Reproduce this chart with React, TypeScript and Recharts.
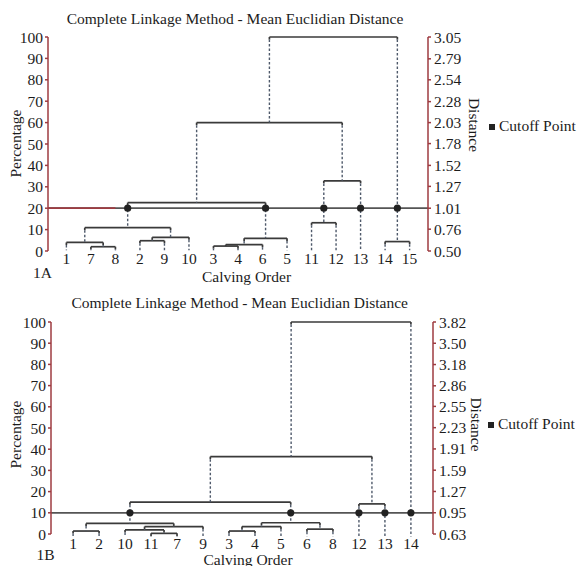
import React from 'react';
import { ComposedChart, XAxis, YAxis, Scatter, ReferenceLine, Legend } from 'recharts';

const FONT = '"Liberation Serif", "Times New Roman", serif';
const AXIS_RED = '#9e3b40';
const TEXT = '#1c1c1c';

const titleText = 'Complete Linkage Method - Mean Euclidian Distance';
const xLabelText = 'Calving Order';
const leftLabelText = 'Percentage';
const rightLabelText = 'Distance';
const seriesName = 'Cutoff Point';

const pctTicks = [0, 10, 20, 30, 40, 50, 60, 70, 80, 90, 100];

// ---------- Panel 1A ----------
const leavesA = ['1', '7', '8', '2', '9', '10', '3', '4', '6', '5', '11', '12', '13', '14', '15'];
// [left, right, height %]; merge k is referred to as 'm' + k
const mergesA: [string, string, number][] = [
  ['7', '8', 2.0],
  ['1', 'm0', 4.0],
  ['2', '9', 4.8],
  ['m2', '10', 6.4],
  ['m1', 'm3', 10.9],
  ['3', '4', 2.3],
  ['m5', '6', 3.0],
  ['m6', '5', 5.9],
  ['m4', 'm7', 22.6],
  ['11', '12', 13.2],
  ['m9', '13', 32.8],
  ['m8', 'm10', 60],
  ['14', '15', 4.4],
  ['m11', 'm12', 100],
];
const distTicksA = [0.5, 0.76, 1.01, 1.27, 1.52, 1.78, 2.03, 2.28, 2.54, 2.79, 3.05];
const cutoffA = 20;
const leafBaseA = 0.3;

// ---------- Panel 1B ----------
const leavesB = ['1', '2', '10', '11', '7', '9', '3', '4', '5', '6', '8', '12', '13', '14'];
const mergesB: [string, string, number][] = [
  ['1', '2', 1.4],
  ['11', '7', 0.3],
  ['10', 'm1', 1.9],
  ['m2', '9', 3.5],
  ['m0', 'm3', 5.0],
  ['3', '4', 1.4],
  ['m5', '5', 3.5],
  ['6', '8', 2.3],
  ['m6', 'm7', 5.3],
  ['m4', 'm8', 15.0],
  ['12', '13', 14.2],
  ['m9', 'm10', 36.5],
  ['m11', '14', 100],
];
const distTicksB = [0.63, 0.95, 1.27, 1.59, 1.91, 2.23, 2.55, 2.86, 3.18, 3.5, 3.82];
const cutoffB = 10;
const leafBaseB = -1.2;

type Seg = { x1: number; y1: number; x2: number; y2: number; dashed: boolean };
const STUB = 1.2;

function buildTree(leaves: string[], merges: [string, string, number][], leafBase: number, cutoff: number) {
  const pos: Record<string, { x: number; h: number }> = {};
  leaves.forEach((l, i) => {
    pos[l] = { x: i, h: leafBase };
  });
  const parent: Record<string, number> = {};
  const segs: Seg[] = [];
  merges.forEach(([a, b, h], k) => {
    const A = pos[a];
    const B = pos[b];
    segs.push({ x1: A.x, y1: h, x2: B.x, y2: h, dashed: false });
    [A, B].forEach((c) => {
      const stubEnd = Math.max(c.h, h - STUB);
      segs.push({ x1: c.x, y1: h, x2: c.x, y2: stubEnd, dashed: false });
      if (stubEnd > c.h) segs.push({ x1: c.x, y1: stubEnd, x2: c.x, y2: c.h, dashed: true });
    });
    pos['m' + k] = { x: (A.x + B.x) / 2, h };
    parent[a] = h;
    parent[b] = h;
  });
  const dots = Object.keys(pos)
    .filter((n) => parent[n] !== undefined && pos[n].h < cutoff && parent[n] > cutoff)
    .map((n) => ({ x: pos[n].x, y: cutoff }));
  return { segs, dots };
}

type PanelCfg = {
  tag: string;
  leaves: string[];
  merges: [string, string, number][];
  distTicks: number[];
  cutoff: number;
  leafBase: number;
  top: number;
  leftW: number;
  rightW: number;
  xDomain: [number, number];
  tickMargin: number;
  redUntil?: string;
  titleX: number;
  titleY: number;
  tagX: number;
  tagY: number;
  xLabelX: number;
  xLabelY: number;
  leftLabel: [number, number];
  rightLabel: [number, number];
  legendPos: [number, number];
};

const dotShape = (p: any) => <circle cx={p.cx} cy={p.cy} r={3.6} fill="#222" />;

function Panel({ cfg }: { cfg: PanelCfg }) {
  const { segs, dots } = buildTree(cfg.leaves, cfg.merges, cfg.leafBase, cfg.cutoff);
  const tickStyle = { fill: TEXT, fontSize: 15.5, fontFamily: FONT };
  const redIdx = cfg.redUntil ? cfg.leaves.indexOf(cfg.redUntil) : -1;
  return (
    <div style={{ position: 'relative', width: 581, height: 283 }}>
      <ComposedChart width={581} height={283} margin={{ top: cfg.top, right: 0, bottom: 0, left: 0 }}>
        <XAxis
          xAxisId="x"
          type="number"
          dataKey="x"
          domain={cfg.xDomain}
          ticks={cfg.leaves.map((_, i) => i)}
          tickFormatter={(i: number) => cfg.leaves[i] ?? ''}
          interval={0}
          axisLine={false}
          tickLine={false}
          tickSize={0}
          tickMargin={cfg.tickMargin}
          height={32}
          tick={tickStyle}
          allowDataOverflow
        />
        <YAxis
          yAxisId="pct"
          type="number"
          domain={[0, 100]}
          ticks={pctTicks}
          interval={0}
          width={cfg.leftW}
          stroke={AXIS_RED}
          strokeWidth={1.5}
          tickSize={3}
          tickMargin={2}
          tick={tickStyle}
          allowDataOverflow
        />
        <YAxis
          yAxisId="dist"
          orientation="right"
          type="number"
          domain={[cfg.distTicks[0], cfg.distTicks[cfg.distTicks.length - 1]]}
          ticks={cfg.distTicks}
          tickFormatter={(v: number) => v.toFixed(2)}
          interval={0}
          width={cfg.rightW}
          stroke={AXIS_RED}
          strokeWidth={1.5}
          tickSize={3}
          tickMargin={3}
          tick={tickStyle}
          allowDataOverflow
        />
        <ReferenceLine
          xAxisId="x"
          yAxisId="pct"
          y={cfg.cutoff}
          stroke="#555"
          strokeWidth={1.8}
          ifOverflow="visible"
        />
        {redIdx >= 0 && (
          <ReferenceLine
            xAxisId="x"
            yAxisId="pct"
            segment={[
              { x: cfg.xDomain[0], y: cfg.cutoff },
              { x: redIdx, y: cfg.cutoff },
            ]}
            stroke={AXIS_RED}
            strokeWidth={1.8}
            ifOverflow="visible"
          />
        )}
        {segs.map((s, i) => (
          <ReferenceLine
            key={i}
            xAxisId="x"
            yAxisId="pct"
            segment={[
              { x: s.x1, y: s.y1 },
              { x: s.x2, y: s.y2 },
            ]}
            stroke={s.dashed ? '#4f5a6b' : '#3a3a3a'}
            strokeWidth={s.dashed ? 1.4 : 1.7}
            strokeDasharray={s.dashed ? '2.5 2' : undefined}
            ifOverflow="visible"
          />
        ))}
        <Scatter
          name={seriesName}
          data={dots}
          xAxisId="x"
          yAxisId="pct"
          dataKey="y"
          fill="#222"
          legendType="square"
          shape={dotShape}
          isAnimationActive={false}
        />
        <Legend
          layout="vertical"
          align="center"
          verticalAlign="middle"
          iconType="square"
          iconSize={6}
          formatter={(v: any) => <span style={{ color: TEXT, fontFamily: FONT, fontSize: 15.5 }}>{v}</span>}
          wrapperStyle={{ left: cfg.legendPos[0], top: cfg.legendPos[1], width: 100 }}
        />
      </ComposedChart>
      <svg
        width={581}
        height={283}
        style={{ position: 'absolute', left: 0, top: 0, pointerEvents: 'none', overflow: 'visible' }}
        fontFamily={FONT}
        fill={TEXT}
      >
        <text x={cfg.titleX} y={cfg.titleY} textAnchor="middle" fontSize={15.5}>
          {titleText}
        </text>
        <text x={cfg.tagX} y={cfg.tagY} textAnchor="middle" fontSize={15.5}>
          {cfg.tag}
        </text>
        <text x={cfg.xLabelX} y={cfg.xLabelY} textAnchor="middle" fontSize={15.5}>
          {xLabelText}
        </text>
        <text
          transform={`translate(${cfg.leftLabel[0]},${cfg.leftLabel[1]}) rotate(-90)`}
          textAnchor="middle"
          dy="0.35em"
          fontSize={15.5}
        >
          {leftLabelText}
        </text>
        <text
          transform={`translate(${cfg.rightLabel[0]},${cfg.rightLabel[1]}) rotate(90)`}
          textAnchor="middle"
          dy="0.35em"
          fontSize={15.5}
        >
          {rightLabelText}
        </text>
      </svg>
    </div>
  );
}

const panelA: PanelCfg = {
  tag: '1A',
  leaves: leavesA,
  merges: mergesA,
  distTicks: distTicksA,
  cutoff: cutoffA,
  leafBase: leafBaseA,
  top: 37,
  leftW: 48,
  rightW: 153,
  xDomain: [-0.75, 14.75],
  tickMargin: 2,
  redUntil: '8',
  titleX: 235,
  titleY: 24,
  tagX: 42.5,
  tagY: 278,
  xLabelX: 246.5,
  xLabelY: 282,
  leftLabel: [16, 143.5],
  rightLabel: [474, 125],
  legendPos: [489, 117],
};

const panelB: PanelCfg = {
  tag: '1B',
  leaves: leavesB,
  merges: mergesB,
  distTicks: distTicksB,
  cutoff: cutoffB,
  leafBase: leafBaseB,
  top: 39,
  leftW: 51,
  rightW: 148,
  xDomain: [-0.85, 13.85],
  tickMargin: 4,
  titleX: 239.7,
  titleY: 25,
  tagX: 45.5,
  tagY: 277,
  xLabelX: 248,
  xLabelY: 281.5,
  leftLabel: [16, 151.5],
  rightLabel: [476, 141.5],
  legendPos: [488, 132],
};

export default function App() {
  return (
    <div
      style={{
        position: 'absolute',
        left: 0,
        top: 0,
        width: 581,
        height: 566,
        background: '#fff',
        fontFamily: FONT,
        fontSize: 15.5,
        color: TEXT,
      }}
    >
      <Panel cfg={panelA} />
      <Panel cfg={panelB} />
    </div>
  );
}
